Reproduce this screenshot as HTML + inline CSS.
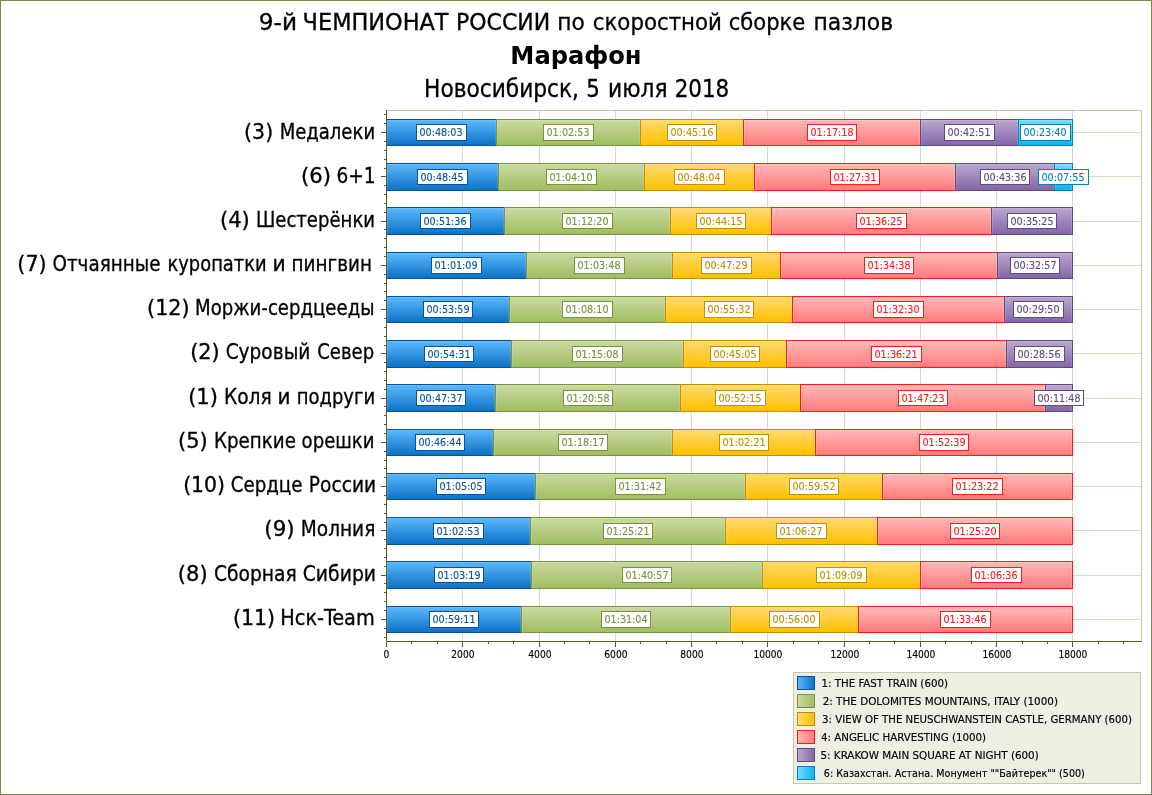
<!DOCTYPE html>
<html lang="ru"><head><meta charset="utf-8"><title>Марафон</title>
<style>html,body{margin:0;padding:0;background:#fff}body{width:1152px;height:795px;overflow:hidden}svg{display:block}text{font-family:'DejaVu Sans Condensed','DejaVu Sans','Liberation Sans',sans-serif}.d text{stroke-width:.12px}</style></head><body>
<svg width="1152" height="795" viewBox="0 0 1152 795">
<defs>
<linearGradient id="v0" x1="0" y1="0" x2="0" y2="1"><stop offset="0" stop-color="#5cb8fc"/><stop offset="1" stop-color="#0c73c7"/></linearGradient>
<linearGradient id="h0" x1="0" y1="0" x2="1" y2="0"><stop offset="0" stop-color="#5cb8fc"/><stop offset="1" stop-color="#0c73c7"/></linearGradient>
<linearGradient id="v1" x1="0" y1="0" x2="0" y2="1"><stop offset="0" stop-color="#c9daa2"/><stop offset="1" stop-color="#a1bd60"/></linearGradient>
<linearGradient id="h1" x1="0" y1="0" x2="1" y2="0"><stop offset="0" stop-color="#c9daa2"/><stop offset="1" stop-color="#a1bd60"/></linearGradient>
<linearGradient id="v2" x1="0" y1="0" x2="0" y2="1"><stop offset="0" stop-color="#ffd970"/><stop offset="1" stop-color="#ffc000"/></linearGradient>
<linearGradient id="h2" x1="0" y1="0" x2="1" y2="0"><stop offset="0" stop-color="#ffd970"/><stop offset="1" stop-color="#ffc000"/></linearGradient>
<linearGradient id="v3" x1="0" y1="0" x2="0" y2="1"><stop offset="0" stop-color="#ffb9b9"/><stop offset="1" stop-color="#ff7b7b"/></linearGradient>
<linearGradient id="h3" x1="0" y1="0" x2="1" y2="0"><stop offset="0" stop-color="#ffb9b9"/><stop offset="1" stop-color="#ff7b7b"/></linearGradient>
<linearGradient id="v4" x1="0" y1="0" x2="0" y2="1"><stop offset="0" stop-color="#baa7cf"/><stop offset="1" stop-color="#8467a8"/></linearGradient>
<linearGradient id="h4" x1="0" y1="0" x2="1" y2="0"><stop offset="0" stop-color="#baa7cf"/><stop offset="1" stop-color="#8467a8"/></linearGradient>
<linearGradient id="v5" x1="0" y1="0" x2="0" y2="1"><stop offset="0" stop-color="#72ddff"/><stop offset="1" stop-color="#0db4f0"/></linearGradient>
<linearGradient id="h5" x1="0" y1="0" x2="1" y2="0"><stop offset="0" stop-color="#72ddff"/><stop offset="1" stop-color="#0db4f0"/></linearGradient>
</defs>
<rect x="0" y="0" width="1152" height="795" fill="#fff"/>
<rect x="0.5" y="0.5" width="1151" height="794" fill="none" stroke="#768a4d" shape-rendering="crispEdges"/>
<g shape-rendering="crispEdges">
<rect x="462" y="111" width="1" height="530" fill="#d9dcc4"/>
<rect x="539" y="111" width="1" height="530" fill="#d9dcc4"/>
<rect x="615" y="111" width="1" height="530" fill="#d9dcc4"/>
<rect x="691" y="111" width="1" height="530" fill="#d9dcc4"/>
<rect x="767" y="111" width="1" height="530" fill="#d9dcc4"/>
<rect x="844" y="111" width="1" height="530" fill="#d9dcc4"/>
<rect x="920" y="111" width="1" height="530" fill="#d9dcc4"/>
<rect x="996" y="111" width="1" height="530" fill="#d9dcc4"/>
<rect x="1072" y="111" width="1" height="530" fill="#d9dcc4"/>
<rect x="387" y="132" width="754" height="1" fill="#d9dcc4"/>
<rect x="387" y="176" width="754" height="1" fill="#d9dcc4"/>
<rect x="387" y="221" width="754" height="1" fill="#d9dcc4"/>
<rect x="387" y="265" width="754" height="1" fill="#d9dcc4"/>
<rect x="387" y="309" width="754" height="1" fill="#d9dcc4"/>
<rect x="387" y="353" width="754" height="1" fill="#d9dcc4"/>
<rect x="387" y="398" width="754" height="1" fill="#d9dcc4"/>
<rect x="387" y="442" width="754" height="1" fill="#d9dcc4"/>
<rect x="387" y="486" width="754" height="1" fill="#d9dcc4"/>
<rect x="387" y="530" width="754" height="1" fill="#d9dcc4"/>
<rect x="387" y="575" width="754" height="1" fill="#d9dcc4"/>
<rect x="387" y="619" width="754" height="1" fill="#d9dcc4"/>
<rect x="387" y="110" width="755" height="1" fill="#c3c7a2"/>
<rect x="1141" y="110" width="1" height="532" fill="#c3c7a2"/>
<rect x="386" y="119" width="111" height="27" fill="#03549a"/>
<rect x="387" y="120" width="109" height="25" fill="url(#v0)"/>
<path d="M387.5 145V120.5H495.5V145" fill="none" stroke="rgba(255,255,255,0.10)"/>
<rect x="496" y="119" width="145" height="27" fill="#77933c"/>
<rect x="497" y="120" width="143" height="25" fill="url(#v1)"/>
<path d="M497.5 145V120.5H639.5V145" fill="none" stroke="rgba(255,255,255,0.14)"/>
<rect x="640" y="119" width="104" height="27" fill="#bf9000"/>
<rect x="641" y="120" width="102" height="25" fill="url(#v2)"/>
<path d="M641.5 145V120.5H742.5V145" fill="none" stroke="rgba(255,255,180,0.13)"/>
<rect x="743" y="119" width="178" height="27" fill="#ff1a1a"/>
<rect x="744" y="120" width="176" height="25" fill="url(#v3)"/>
<path d="M744.5 145V120.5H919.5V145" fill="none" stroke="rgba(255,255,255,0.16)"/>
<rect x="920" y="119" width="99" height="27" fill="#604a7b"/>
<rect x="921" y="120" width="97" height="25" fill="url(#v4)"/>
<path d="M921.5 145V120.5H1017.5V145" fill="none" stroke="rgba(255,255,255,0.13)"/>
<rect x="1018" y="119" width="55" height="27" fill="#0084b4"/>
<rect x="1019" y="120" width="53" height="25" fill="url(#v5)"/>
<path d="M1019.5 145V120.5H1071.5V145" fill="none" stroke="rgba(255,255,255,0.16)"/>
<rect x="386" y="163" width="113" height="28" fill="#03549a"/>
<rect x="387" y="164" width="111" height="26" fill="url(#v0)"/>
<path d="M387.5 190V164.5H497.5V190" fill="none" stroke="rgba(255,255,255,0.10)"/>
<rect x="498" y="163" width="147" height="28" fill="#77933c"/>
<rect x="499" y="164" width="145" height="26" fill="url(#v1)"/>
<path d="M499.5 190V164.5H643.5V190" fill="none" stroke="rgba(255,255,255,0.14)"/>
<rect x="644" y="163" width="111" height="28" fill="#bf9000"/>
<rect x="645" y="164" width="109" height="26" fill="url(#v2)"/>
<path d="M645.5 190V164.5H753.5V190" fill="none" stroke="rgba(255,255,180,0.13)"/>
<rect x="754" y="163" width="202" height="28" fill="#ff1a1a"/>
<rect x="755" y="164" width="200" height="26" fill="url(#v3)"/>
<path d="M755.5 190V164.5H954.5V190" fill="none" stroke="rgba(255,255,255,0.16)"/>
<rect x="955" y="163" width="100" height="28" fill="#604a7b"/>
<rect x="956" y="164" width="98" height="26" fill="url(#v4)"/>
<path d="M956.5 190V164.5H1053.5V190" fill="none" stroke="rgba(255,255,255,0.13)"/>
<rect x="1054" y="163" width="19" height="28" fill="#0084b4"/>
<rect x="1055" y="164" width="17" height="26" fill="url(#v5)"/>
<path d="M1055.5 190V164.5H1071.5V190" fill="none" stroke="rgba(255,255,255,0.16)"/>
<rect x="386" y="207" width="119" height="28" fill="#03549a"/>
<rect x="387" y="208" width="117" height="26" fill="url(#v0)"/>
<path d="M387.5 234V208.5H503.5V234" fill="none" stroke="rgba(255,255,255,0.10)"/>
<rect x="504" y="207" width="167" height="28" fill="#77933c"/>
<rect x="505" y="208" width="165" height="26" fill="url(#v1)"/>
<path d="M505.5 234V208.5H669.5V234" fill="none" stroke="rgba(255,255,255,0.14)"/>
<rect x="670" y="207" width="102" height="28" fill="#bf9000"/>
<rect x="671" y="208" width="100" height="26" fill="url(#v2)"/>
<path d="M671.5 234V208.5H770.5V234" fill="none" stroke="rgba(255,255,180,0.13)"/>
<rect x="771" y="207" width="221" height="28" fill="#ff1a1a"/>
<rect x="772" y="208" width="219" height="26" fill="url(#v3)"/>
<path d="M772.5 234V208.5H990.5V234" fill="none" stroke="rgba(255,255,255,0.16)"/>
<rect x="991" y="207" width="82" height="28" fill="#604a7b"/>
<rect x="992" y="208" width="80" height="26" fill="url(#v4)"/>
<path d="M992.5 234V208.5H1071.5V234" fill="none" stroke="rgba(255,255,255,0.13)"/>
<rect x="386" y="252" width="141" height="27" fill="#03549a"/>
<rect x="387" y="253" width="139" height="25" fill="url(#v0)"/>
<path d="M387.5 278V253.5H525.5V278" fill="none" stroke="rgba(255,255,255,0.10)"/>
<rect x="526" y="252" width="147" height="27" fill="#77933c"/>
<rect x="527" y="253" width="145" height="25" fill="url(#v1)"/>
<path d="M527.5 278V253.5H671.5V278" fill="none" stroke="rgba(255,255,255,0.14)"/>
<rect x="672" y="252" width="109" height="27" fill="#bf9000"/>
<rect x="673" y="253" width="107" height="25" fill="url(#v2)"/>
<path d="M673.5 278V253.5H779.5V278" fill="none" stroke="rgba(255,255,180,0.13)"/>
<rect x="780" y="252" width="218" height="27" fill="#ff1a1a"/>
<rect x="781" y="253" width="216" height="25" fill="url(#v3)"/>
<path d="M781.5 278V253.5H996.5V278" fill="none" stroke="rgba(255,255,255,0.16)"/>
<rect x="997" y="252" width="76" height="27" fill="#604a7b"/>
<rect x="998" y="253" width="74" height="25" fill="url(#v4)"/>
<path d="M998.5 278V253.5H1071.5V278" fill="none" stroke="rgba(255,255,255,0.13)"/>
<rect x="386" y="296" width="124" height="27" fill="#03549a"/>
<rect x="387" y="297" width="122" height="25" fill="url(#v0)"/>
<path d="M387.5 322V297.5H508.5V322" fill="none" stroke="rgba(255,255,255,0.10)"/>
<rect x="509" y="296" width="157" height="27" fill="#77933c"/>
<rect x="510" y="297" width="155" height="25" fill="url(#v1)"/>
<path d="M510.5 322V297.5H664.5V322" fill="none" stroke="rgba(255,255,255,0.14)"/>
<rect x="665" y="296" width="128" height="27" fill="#bf9000"/>
<rect x="666" y="297" width="126" height="25" fill="url(#v2)"/>
<path d="M666.5 322V297.5H791.5V322" fill="none" stroke="rgba(255,255,180,0.13)"/>
<rect x="792" y="296" width="213" height="27" fill="#ff1a1a"/>
<rect x="793" y="297" width="211" height="25" fill="url(#v3)"/>
<path d="M793.5 322V297.5H1003.5V322" fill="none" stroke="rgba(255,255,255,0.16)"/>
<rect x="1004" y="296" width="69" height="27" fill="#604a7b"/>
<rect x="1005" y="297" width="67" height="25" fill="url(#v4)"/>
<path d="M1005.5 322V297.5H1071.5V322" fill="none" stroke="rgba(255,255,255,0.13)"/>
<rect x="386" y="340" width="126" height="28" fill="#03549a"/>
<rect x="387" y="341" width="124" height="26" fill="url(#v0)"/>
<path d="M387.5 367V341.5H510.5V367" fill="none" stroke="rgba(255,255,255,0.10)"/>
<rect x="511" y="340" width="173" height="28" fill="#77933c"/>
<rect x="512" y="341" width="171" height="26" fill="url(#v1)"/>
<path d="M512.5 367V341.5H682.5V367" fill="none" stroke="rgba(255,255,255,0.14)"/>
<rect x="683" y="340" width="104" height="28" fill="#bf9000"/>
<rect x="684" y="341" width="102" height="26" fill="url(#v2)"/>
<path d="M684.5 367V341.5H785.5V367" fill="none" stroke="rgba(255,255,180,0.13)"/>
<rect x="786" y="340" width="221" height="28" fill="#ff1a1a"/>
<rect x="787" y="341" width="219" height="26" fill="url(#v3)"/>
<path d="M787.5 367V341.5H1005.5V367" fill="none" stroke="rgba(255,255,255,0.16)"/>
<rect x="1006" y="340" width="67" height="28" fill="#604a7b"/>
<rect x="1007" y="341" width="65" height="26" fill="url(#v4)"/>
<path d="M1007.5 367V341.5H1071.5V367" fill="none" stroke="rgba(255,255,255,0.13)"/>
<rect x="386" y="384" width="110" height="28" fill="#03549a"/>
<rect x="387" y="385" width="108" height="26" fill="url(#v0)"/>
<path d="M387.5 411V385.5H494.5V411" fill="none" stroke="rgba(255,255,255,0.10)"/>
<rect x="495" y="384" width="186" height="28" fill="#77933c"/>
<rect x="496" y="385" width="184" height="26" fill="url(#v1)"/>
<path d="M496.5 411V385.5H679.5V411" fill="none" stroke="rgba(255,255,255,0.14)"/>
<rect x="680" y="384" width="121" height="28" fill="#bf9000"/>
<rect x="681" y="385" width="119" height="26" fill="url(#v2)"/>
<path d="M681.5 411V385.5H799.5V411" fill="none" stroke="rgba(255,255,180,0.13)"/>
<rect x="800" y="384" width="246" height="28" fill="#ff1a1a"/>
<rect x="801" y="385" width="244" height="26" fill="url(#v3)"/>
<path d="M801.5 411V385.5H1044.5V411" fill="none" stroke="rgba(255,255,255,0.16)"/>
<rect x="1045" y="384" width="28" height="28" fill="#604a7b"/>
<rect x="1046" y="385" width="26" height="26" fill="url(#v4)"/>
<path d="M1046.5 411V385.5H1071.5V411" fill="none" stroke="rgba(255,255,255,0.13)"/>
<rect x="386" y="429" width="108" height="27" fill="#03549a"/>
<rect x="387" y="430" width="106" height="25" fill="url(#v0)"/>
<path d="M387.5 455V430.5H492.5V455" fill="none" stroke="rgba(255,255,255,0.10)"/>
<rect x="493" y="429" width="180" height="27" fill="#77933c"/>
<rect x="494" y="430" width="178" height="25" fill="url(#v1)"/>
<path d="M494.5 455V430.5H671.5V455" fill="none" stroke="rgba(255,255,255,0.14)"/>
<rect x="672" y="429" width="144" height="27" fill="#bf9000"/>
<rect x="673" y="430" width="142" height="25" fill="url(#v2)"/>
<path d="M673.5 455V430.5H814.5V455" fill="none" stroke="rgba(255,255,180,0.13)"/>
<rect x="815" y="429" width="258" height="27" fill="#ff1a1a"/>
<rect x="816" y="430" width="256" height="25" fill="url(#v3)"/>
<path d="M816.5 455V430.5H1071.5V455" fill="none" stroke="rgba(255,255,255,0.16)"/>
<rect x="386" y="473" width="150" height="27" fill="#03549a"/>
<rect x="387" y="474" width="148" height="25" fill="url(#v0)"/>
<path d="M387.5 499V474.5H534.5V499" fill="none" stroke="rgba(255,255,255,0.10)"/>
<rect x="535" y="473" width="211" height="27" fill="#77933c"/>
<rect x="536" y="474" width="209" height="25" fill="url(#v1)"/>
<path d="M536.5 499V474.5H744.5V499" fill="none" stroke="rgba(255,255,255,0.14)"/>
<rect x="745" y="473" width="138" height="27" fill="#bf9000"/>
<rect x="746" y="474" width="136" height="25" fill="url(#v2)"/>
<path d="M746.5 499V474.5H881.5V499" fill="none" stroke="rgba(255,255,180,0.13)"/>
<rect x="882" y="473" width="191" height="27" fill="#ff1a1a"/>
<rect x="883" y="474" width="189" height="25" fill="url(#v3)"/>
<path d="M883.5 499V474.5H1071.5V499" fill="none" stroke="rgba(255,255,255,0.16)"/>
<rect x="386" y="517" width="145" height="28" fill="#03549a"/>
<rect x="387" y="518" width="143" height="26" fill="url(#v0)"/>
<path d="M387.5 544V518.5H529.5V544" fill="none" stroke="rgba(255,255,255,0.10)"/>
<rect x="530" y="517" width="196" height="28" fill="#77933c"/>
<rect x="531" y="518" width="194" height="26" fill="url(#v1)"/>
<path d="M531.5 544V518.5H724.5V544" fill="none" stroke="rgba(255,255,255,0.14)"/>
<rect x="725" y="517" width="153" height="28" fill="#bf9000"/>
<rect x="726" y="518" width="151" height="26" fill="url(#v2)"/>
<path d="M726.5 544V518.5H876.5V544" fill="none" stroke="rgba(255,255,180,0.13)"/>
<rect x="877" y="517" width="196" height="28" fill="#ff1a1a"/>
<rect x="878" y="518" width="194" height="26" fill="url(#v3)"/>
<path d="M878.5 544V518.5H1071.5V544" fill="none" stroke="rgba(255,255,255,0.16)"/>
<rect x="386" y="561" width="146" height="28" fill="#03549a"/>
<rect x="387" y="562" width="144" height="26" fill="url(#v0)"/>
<path d="M387.5 588V562.5H530.5V588" fill="none" stroke="rgba(255,255,255,0.10)"/>
<rect x="531" y="561" width="232" height="28" fill="#77933c"/>
<rect x="532" y="562" width="230" height="26" fill="url(#v1)"/>
<path d="M532.5 588V562.5H761.5V588" fill="none" stroke="rgba(255,255,255,0.14)"/>
<rect x="762" y="561" width="159" height="28" fill="#bf9000"/>
<rect x="763" y="562" width="157" height="26" fill="url(#v2)"/>
<path d="M763.5 588V562.5H919.5V588" fill="none" stroke="rgba(255,255,180,0.13)"/>
<rect x="920" y="561" width="153" height="28" fill="#ff1a1a"/>
<rect x="921" y="562" width="151" height="26" fill="url(#v3)"/>
<path d="M921.5 588V562.5H1071.5V588" fill="none" stroke="rgba(255,255,255,0.16)"/>
<rect x="386" y="606" width="136" height="27" fill="#03549a"/>
<rect x="387" y="607" width="134" height="25" fill="url(#v0)"/>
<path d="M387.5 632V607.5H520.5V632" fill="none" stroke="rgba(255,255,255,0.10)"/>
<rect x="521" y="606" width="210" height="27" fill="#77933c"/>
<rect x="522" y="607" width="208" height="25" fill="url(#v1)"/>
<path d="M522.5 632V607.5H729.5V632" fill="none" stroke="rgba(255,255,255,0.14)"/>
<rect x="730" y="606" width="129" height="27" fill="#bf9000"/>
<rect x="731" y="607" width="127" height="25" fill="url(#v2)"/>
<path d="M731.5 632V607.5H857.5V632" fill="none" stroke="rgba(255,255,180,0.13)"/>
<rect x="858" y="606" width="215" height="27" fill="#ff1a1a"/>
<rect x="859" y="607" width="213" height="25" fill="url(#v3)"/>
<path d="M859.5 632V607.5H1071.5V632" fill="none" stroke="rgba(255,255,255,0.16)"/>
<rect x="386" y="110" width="1" height="532" fill="#526029"/>
<rect x="386" y="641" width="756" height="1" fill="#526029"/>
<rect x="381" y="132" width="5" height="1" fill="#526029"/>
<rect x="381" y="176" width="5" height="1" fill="#526029"/>
<rect x="381" y="221" width="5" height="1" fill="#526029"/>
<rect x="381" y="265" width="5" height="1" fill="#526029"/>
<rect x="381" y="309" width="5" height="1" fill="#526029"/>
<rect x="381" y="353" width="5" height="1" fill="#526029"/>
<rect x="381" y="398" width="5" height="1" fill="#526029"/>
<rect x="381" y="442" width="5" height="1" fill="#526029"/>
<rect x="381" y="486" width="5" height="1" fill="#526029"/>
<rect x="381" y="530" width="5" height="1" fill="#526029"/>
<rect x="381" y="575" width="5" height="1" fill="#526029"/>
<rect x="381" y="619" width="5" height="1" fill="#526029"/>
<rect x="384" y="114" width="2" height="1" fill="#526029"/>
<rect x="384" y="123" width="2" height="1" fill="#526029"/>
<rect x="384" y="141" width="2" height="1" fill="#526029"/>
<rect x="384" y="150" width="2" height="1" fill="#526029"/>
<rect x="384" y="159" width="2" height="1" fill="#526029"/>
<rect x="384" y="168" width="2" height="1" fill="#526029"/>
<rect x="384" y="185" width="2" height="1" fill="#526029"/>
<rect x="384" y="194" width="2" height="1" fill="#526029"/>
<rect x="384" y="203" width="2" height="1" fill="#526029"/>
<rect x="384" y="212" width="2" height="1" fill="#526029"/>
<rect x="384" y="229" width="2" height="1" fill="#526029"/>
<rect x="384" y="238" width="2" height="1" fill="#526029"/>
<rect x="384" y="247" width="2" height="1" fill="#526029"/>
<rect x="384" y="256" width="2" height="1" fill="#526029"/>
<rect x="384" y="274" width="2" height="1" fill="#526029"/>
<rect x="384" y="283" width="2" height="1" fill="#526029"/>
<rect x="384" y="291" width="2" height="1" fill="#526029"/>
<rect x="384" y="300" width="2" height="1" fill="#526029"/>
<rect x="384" y="318" width="2" height="1" fill="#526029"/>
<rect x="384" y="327" width="2" height="1" fill="#526029"/>
<rect x="384" y="336" width="2" height="1" fill="#526029"/>
<rect x="384" y="345" width="2" height="1" fill="#526029"/>
<rect x="384" y="362" width="2" height="1" fill="#526029"/>
<rect x="384" y="371" width="2" height="1" fill="#526029"/>
<rect x="384" y="380" width="2" height="1" fill="#526029"/>
<rect x="384" y="389" width="2" height="1" fill="#526029"/>
<rect x="384" y="406" width="2" height="1" fill="#526029"/>
<rect x="384" y="415" width="2" height="1" fill="#526029"/>
<rect x="384" y="424" width="2" height="1" fill="#526029"/>
<rect x="384" y="433" width="2" height="1" fill="#526029"/>
<rect x="384" y="451" width="2" height="1" fill="#526029"/>
<rect x="384" y="460" width="2" height="1" fill="#526029"/>
<rect x="384" y="468" width="2" height="1" fill="#526029"/>
<rect x="384" y="477" width="2" height="1" fill="#526029"/>
<rect x="384" y="495" width="2" height="1" fill="#526029"/>
<rect x="384" y="504" width="2" height="1" fill="#526029"/>
<rect x="384" y="513" width="2" height="1" fill="#526029"/>
<rect x="384" y="522" width="2" height="1" fill="#526029"/>
<rect x="384" y="539" width="2" height="1" fill="#526029"/>
<rect x="384" y="548" width="2" height="1" fill="#526029"/>
<rect x="384" y="557" width="2" height="1" fill="#526029"/>
<rect x="384" y="566" width="2" height="1" fill="#526029"/>
<rect x="384" y="583" width="2" height="1" fill="#526029"/>
<rect x="384" y="592" width="2" height="1" fill="#526029"/>
<rect x="384" y="601" width="2" height="1" fill="#526029"/>
<rect x="384" y="610" width="2" height="1" fill="#526029"/>
<rect x="384" y="628" width="2" height="1" fill="#526029"/>
<rect x="384" y="637" width="2" height="1" fill="#526029"/>
<rect x="386" y="642" width="1" height="5" fill="#526029"/>
<rect x="462" y="642" width="1" height="5" fill="#526029"/>
<rect x="539" y="642" width="1" height="5" fill="#526029"/>
<rect x="615" y="642" width="1" height="5" fill="#526029"/>
<rect x="691" y="642" width="1" height="5" fill="#526029"/>
<rect x="767" y="642" width="1" height="5" fill="#526029"/>
<rect x="844" y="642" width="1" height="5" fill="#526029"/>
<rect x="920" y="642" width="1" height="5" fill="#526029"/>
<rect x="996" y="642" width="1" height="5" fill="#526029"/>
<rect x="1072" y="642" width="1" height="5" fill="#526029"/>
<rect x="411" y="642" width="1" height="2" fill="#526029"/>
<rect x="437" y="642" width="1" height="2" fill="#526029"/>
<rect x="488" y="642" width="1" height="2" fill="#526029"/>
<rect x="513" y="642" width="1" height="2" fill="#526029"/>
<rect x="564" y="642" width="1" height="2" fill="#526029"/>
<rect x="589" y="642" width="1" height="2" fill="#526029"/>
<rect x="640" y="642" width="1" height="2" fill="#526029"/>
<rect x="666" y="642" width="1" height="2" fill="#526029"/>
<rect x="716" y="642" width="1" height="2" fill="#526029"/>
<rect x="742" y="642" width="1" height="2" fill="#526029"/>
<rect x="793" y="642" width="1" height="2" fill="#526029"/>
<rect x="818" y="642" width="1" height="2" fill="#526029"/>
<rect x="869" y="642" width="1" height="2" fill="#526029"/>
<rect x="894" y="642" width="1" height="2" fill="#526029"/>
<rect x="945" y="642" width="1" height="2" fill="#526029"/>
<rect x="971" y="642" width="1" height="2" fill="#526029"/>
<rect x="1022" y="642" width="1" height="2" fill="#526029"/>
<rect x="1047" y="642" width="1" height="2" fill="#526029"/>
<rect x="1098" y="642" width="1" height="2" fill="#526029"/>
<rect x="1123" y="642" width="1" height="2" fill="#526029"/>
</g>
<g font-size="11" class="d">
<rect x="416.5" y="124.5" width="50" height="16" fill="#fff" stroke="#03549a" shape-rendering="crispEdges"/>
<text x="419.50" y="136" textLength="43.00" lengthAdjust="spacingAndGlyphs" fill="#03549a" stroke="#03549a">00:48:03</text>
<rect x="543.5" y="124.5" width="50" height="16" fill="#fff" stroke="#77933c" shape-rendering="crispEdges"/>
<text x="546.50" y="136" textLength="43.00" lengthAdjust="spacingAndGlyphs" fill="#77933c" stroke="#77933c">01:02:53</text>
<rect x="667.5" y="124.5" width="49" height="16" fill="#fff" stroke="#bf9000" shape-rendering="crispEdges"/>
<text x="670.50" y="136" textLength="43.00" lengthAdjust="spacingAndGlyphs" fill="#bf9000" stroke="#bf9000">00:45:16</text>
<rect x="807.5" y="124.5" width="49" height="16" fill="#fff" stroke="#ff1a1a" shape-rendering="crispEdges"/>
<text x="810.50" y="136" textLength="43.00" lengthAdjust="spacingAndGlyphs" fill="#ff1a1a" stroke="#ff1a1a">01:17:18</text>
<rect x="944.5" y="124.5" width="50" height="16" fill="#fff" stroke="#604a7b" shape-rendering="crispEdges"/>
<text x="947.50" y="136" textLength="43.00" lengthAdjust="spacingAndGlyphs" fill="#604a7b" stroke="#604a7b">00:42:51</text>
<rect x="1020.5" y="124.5" width="50" height="16" fill="#fff" stroke="#0084b4" shape-rendering="crispEdges"/>
<text x="1023.50" y="136" textLength="43.00" lengthAdjust="spacingAndGlyphs" fill="#0084b4" stroke="#0084b4">00:23:40</text>
<rect x="417.5" y="169.5" width="50" height="15" fill="#fff" stroke="#03549a" shape-rendering="crispEdges"/>
<text x="420.50" y="181" textLength="43.00" lengthAdjust="spacingAndGlyphs" fill="#03549a" stroke="#03549a">00:48:45</text>
<rect x="546.5" y="169.5" width="50" height="15" fill="#fff" stroke="#77933c" shape-rendering="crispEdges"/>
<text x="549.50" y="181" textLength="43.00" lengthAdjust="spacingAndGlyphs" fill="#77933c" stroke="#77933c">01:04:10</text>
<rect x="674.5" y="169.5" width="50" height="15" fill="#fff" stroke="#bf9000" shape-rendering="crispEdges"/>
<text x="677.50" y="181" textLength="43.00" lengthAdjust="spacingAndGlyphs" fill="#bf9000" stroke="#bf9000">00:48:04</text>
<rect x="830.5" y="169.5" width="49" height="15" fill="#fff" stroke="#ff1a1a" shape-rendering="crispEdges"/>
<text x="833.50" y="181" textLength="43.00" lengthAdjust="spacingAndGlyphs" fill="#ff1a1a" stroke="#ff1a1a">01:27:31</text>
<rect x="980.5" y="169.5" width="49" height="15" fill="#fff" stroke="#604a7b" shape-rendering="crispEdges"/>
<text x="983.50" y="181" textLength="43.00" lengthAdjust="spacingAndGlyphs" fill="#604a7b" stroke="#604a7b">00:43:36</text>
<rect x="1038.5" y="169.5" width="50" height="15" fill="#fff" stroke="#0084b4" shape-rendering="crispEdges"/>
<text x="1041.50" y="181" textLength="43.00" lengthAdjust="spacingAndGlyphs" fill="#0084b4" stroke="#0084b4">00:07:55</text>
<rect x="420.5" y="213.5" width="50" height="15" fill="#fff" stroke="#03549a" shape-rendering="crispEdges"/>
<text x="423.50" y="225" textLength="43.00" lengthAdjust="spacingAndGlyphs" fill="#03549a" stroke="#03549a">00:51:36</text>
<rect x="562.5" y="213.5" width="50" height="15" fill="#fff" stroke="#77933c" shape-rendering="crispEdges"/>
<text x="565.50" y="225" textLength="43.00" lengthAdjust="spacingAndGlyphs" fill="#77933c" stroke="#77933c">01:12:20</text>
<rect x="696.5" y="213.5" width="49" height="15" fill="#fff" stroke="#bf9000" shape-rendering="crispEdges"/>
<text x="699.50" y="225" textLength="43.00" lengthAdjust="spacingAndGlyphs" fill="#bf9000" stroke="#bf9000">00:44:15</text>
<rect x="856.5" y="213.5" width="50" height="15" fill="#fff" stroke="#ff1a1a" shape-rendering="crispEdges"/>
<text x="859.50" y="225" textLength="43.00" lengthAdjust="spacingAndGlyphs" fill="#ff1a1a" stroke="#ff1a1a">01:36:25</text>
<rect x="1007.5" y="213.5" width="49" height="15" fill="#fff" stroke="#604a7b" shape-rendering="crispEdges"/>
<text x="1010.50" y="225" textLength="43.00" lengthAdjust="spacingAndGlyphs" fill="#604a7b" stroke="#604a7b">00:35:25</text>
<rect x="431.5" y="257.5" width="50" height="16" fill="#fff" stroke="#03549a" shape-rendering="crispEdges"/>
<text x="434.50" y="269" textLength="43.00" lengthAdjust="spacingAndGlyphs" fill="#03549a" stroke="#03549a">01:01:09</text>
<rect x="574.5" y="257.5" width="50" height="16" fill="#fff" stroke="#77933c" shape-rendering="crispEdges"/>
<text x="577.50" y="269" textLength="43.00" lengthAdjust="spacingAndGlyphs" fill="#77933c" stroke="#77933c">01:03:48</text>
<rect x="701.5" y="257.5" width="50" height="16" fill="#fff" stroke="#bf9000" shape-rendering="crispEdges"/>
<text x="704.50" y="269" textLength="43.00" lengthAdjust="spacingAndGlyphs" fill="#bf9000" stroke="#bf9000">00:47:29</text>
<rect x="864.5" y="257.5" width="49" height="16" fill="#fff" stroke="#ff1a1a" shape-rendering="crispEdges"/>
<text x="867.50" y="269" textLength="43.00" lengthAdjust="spacingAndGlyphs" fill="#ff1a1a" stroke="#ff1a1a">01:34:38</text>
<rect x="1010.5" y="257.5" width="49" height="16" fill="#fff" stroke="#604a7b" shape-rendering="crispEdges"/>
<text x="1013.50" y="269" textLength="43.00" lengthAdjust="spacingAndGlyphs" fill="#604a7b" stroke="#604a7b">00:32:57</text>
<rect x="423.5" y="301.5" width="49" height="16" fill="#fff" stroke="#03549a" shape-rendering="crispEdges"/>
<text x="426.50" y="313" textLength="43.00" lengthAdjust="spacingAndGlyphs" fill="#03549a" stroke="#03549a">00:53:59</text>
<rect x="562.5" y="301.5" width="50" height="16" fill="#fff" stroke="#77933c" shape-rendering="crispEdges"/>
<text x="565.50" y="313" textLength="43.00" lengthAdjust="spacingAndGlyphs" fill="#77933c" stroke="#77933c">01:08:10</text>
<rect x="704.5" y="301.5" width="49" height="16" fill="#fff" stroke="#bf9000" shape-rendering="crispEdges"/>
<text x="707.50" y="313" textLength="43.00" lengthAdjust="spacingAndGlyphs" fill="#bf9000" stroke="#bf9000">00:55:32</text>
<rect x="873.5" y="301.5" width="50" height="16" fill="#fff" stroke="#ff1a1a" shape-rendering="crispEdges"/>
<text x="876.50" y="313" textLength="43.00" lengthAdjust="spacingAndGlyphs" fill="#ff1a1a" stroke="#ff1a1a">01:32:30</text>
<rect x="1013.5" y="301.5" width="50" height="16" fill="#fff" stroke="#604a7b" shape-rendering="crispEdges"/>
<text x="1016.50" y="313" textLength="43.00" lengthAdjust="spacingAndGlyphs" fill="#604a7b" stroke="#604a7b">00:29:50</text>
<rect x="424.5" y="346.5" width="49" height="15" fill="#fff" stroke="#03549a" shape-rendering="crispEdges"/>
<text x="427.50" y="358" textLength="43.00" lengthAdjust="spacingAndGlyphs" fill="#03549a" stroke="#03549a">00:54:31</text>
<rect x="572.5" y="346.5" width="50" height="15" fill="#fff" stroke="#77933c" shape-rendering="crispEdges"/>
<text x="575.50" y="358" textLength="43.00" lengthAdjust="spacingAndGlyphs" fill="#77933c" stroke="#77933c">01:15:08</text>
<rect x="710.5" y="346.5" width="49" height="15" fill="#fff" stroke="#bf9000" shape-rendering="crispEdges"/>
<text x="713.50" y="358" textLength="43.00" lengthAdjust="spacingAndGlyphs" fill="#bf9000" stroke="#bf9000">00:45:05</text>
<rect x="871.5" y="346.5" width="50" height="15" fill="#fff" stroke="#ff1a1a" shape-rendering="crispEdges"/>
<text x="874.50" y="358" textLength="43.00" lengthAdjust="spacingAndGlyphs" fill="#ff1a1a" stroke="#ff1a1a">01:36:21</text>
<rect x="1014.5" y="346.5" width="50" height="15" fill="#fff" stroke="#604a7b" shape-rendering="crispEdges"/>
<text x="1017.50" y="358" textLength="43.00" lengthAdjust="spacingAndGlyphs" fill="#604a7b" stroke="#604a7b">00:28:56</text>
<rect x="416.5" y="390.5" width="49" height="15" fill="#fff" stroke="#03549a" shape-rendering="crispEdges"/>
<text x="419.50" y="402" textLength="43.00" lengthAdjust="spacingAndGlyphs" fill="#03549a" stroke="#03549a">00:47:37</text>
<rect x="563.5" y="390.5" width="49" height="15" fill="#fff" stroke="#77933c" shape-rendering="crispEdges"/>
<text x="566.50" y="402" textLength="43.00" lengthAdjust="spacingAndGlyphs" fill="#77933c" stroke="#77933c">01:20:58</text>
<rect x="715.5" y="390.5" width="50" height="15" fill="#fff" stroke="#bf9000" shape-rendering="crispEdges"/>
<text x="718.50" y="402" textLength="43.00" lengthAdjust="spacingAndGlyphs" fill="#bf9000" stroke="#bf9000">00:52:15</text>
<rect x="898.5" y="390.5" width="49" height="15" fill="#fff" stroke="#ff1a1a" shape-rendering="crispEdges"/>
<text x="901.50" y="402" textLength="43.00" lengthAdjust="spacingAndGlyphs" fill="#ff1a1a" stroke="#ff1a1a">01:47:23</text>
<rect x="1034.5" y="390.5" width="49" height="15" fill="#fff" stroke="#604a7b" shape-rendering="crispEdges"/>
<text x="1037.50" y="402" textLength="43.00" lengthAdjust="spacingAndGlyphs" fill="#604a7b" stroke="#604a7b">00:11:48</text>
<rect x="415.5" y="434.5" width="49" height="16" fill="#fff" stroke="#03549a" shape-rendering="crispEdges"/>
<text x="418.50" y="446" textLength="43.00" lengthAdjust="spacingAndGlyphs" fill="#03549a" stroke="#03549a">00:46:44</text>
<rect x="558.5" y="434.5" width="49" height="16" fill="#fff" stroke="#77933c" shape-rendering="crispEdges"/>
<text x="561.50" y="446" textLength="43.00" lengthAdjust="spacingAndGlyphs" fill="#77933c" stroke="#77933c">01:18:17</text>
<rect x="719.5" y="434.5" width="49" height="16" fill="#fff" stroke="#bf9000" shape-rendering="crispEdges"/>
<text x="722.50" y="446" textLength="43.00" lengthAdjust="spacingAndGlyphs" fill="#bf9000" stroke="#bf9000">01:02:21</text>
<rect x="919.5" y="434.5" width="49" height="16" fill="#fff" stroke="#ff1a1a" shape-rendering="crispEdges"/>
<text x="922.50" y="446" textLength="43.00" lengthAdjust="spacingAndGlyphs" fill="#ff1a1a" stroke="#ff1a1a">01:52:39</text>
<rect x="436.5" y="478.5" width="49" height="16" fill="#fff" stroke="#03549a" shape-rendering="crispEdges"/>
<text x="439.50" y="490" textLength="43.00" lengthAdjust="spacingAndGlyphs" fill="#03549a" stroke="#03549a">01:05:05</text>
<rect x="615.5" y="478.5" width="50" height="16" fill="#fff" stroke="#77933c" shape-rendering="crispEdges"/>
<text x="618.50" y="490" textLength="43.00" lengthAdjust="spacingAndGlyphs" fill="#77933c" stroke="#77933c">01:31:42</text>
<rect x="789.5" y="478.5" width="49" height="16" fill="#fff" stroke="#bf9000" shape-rendering="crispEdges"/>
<text x="792.50" y="490" textLength="43.00" lengthAdjust="spacingAndGlyphs" fill="#bf9000" stroke="#bf9000">00:59:52</text>
<rect x="952.5" y="478.5" width="50" height="16" fill="#fff" stroke="#ff1a1a" shape-rendering="crispEdges"/>
<text x="955.50" y="490" textLength="43.00" lengthAdjust="spacingAndGlyphs" fill="#ff1a1a" stroke="#ff1a1a">01:23:22</text>
<rect x="433.5" y="523.5" width="50" height="15" fill="#fff" stroke="#03549a" shape-rendering="crispEdges"/>
<text x="436.50" y="535" textLength="43.00" lengthAdjust="spacingAndGlyphs" fill="#03549a" stroke="#03549a">01:02:53</text>
<rect x="603.5" y="523.5" width="49" height="15" fill="#fff" stroke="#77933c" shape-rendering="crispEdges"/>
<text x="606.50" y="535" textLength="43.00" lengthAdjust="spacingAndGlyphs" fill="#77933c" stroke="#77933c">01:25:21</text>
<rect x="776.5" y="523.5" width="50" height="15" fill="#fff" stroke="#bf9000" shape-rendering="crispEdges"/>
<text x="779.50" y="535" textLength="43.00" lengthAdjust="spacingAndGlyphs" fill="#bf9000" stroke="#bf9000">01:06:27</text>
<rect x="950.5" y="523.5" width="49" height="15" fill="#fff" stroke="#ff1a1a" shape-rendering="crispEdges"/>
<text x="953.50" y="535" textLength="43.00" lengthAdjust="spacingAndGlyphs" fill="#ff1a1a" stroke="#ff1a1a">01:25:20</text>
<rect x="434.5" y="567.5" width="49" height="15" fill="#fff" stroke="#03549a" shape-rendering="crispEdges"/>
<text x="437.50" y="579" textLength="43.00" lengthAdjust="spacingAndGlyphs" fill="#03549a" stroke="#03549a">01:03:19</text>
<rect x="622.5" y="567.5" width="49" height="15" fill="#fff" stroke="#77933c" shape-rendering="crispEdges"/>
<text x="625.50" y="579" textLength="43.00" lengthAdjust="spacingAndGlyphs" fill="#77933c" stroke="#77933c">01:40:57</text>
<rect x="816.5" y="567.5" width="50" height="15" fill="#fff" stroke="#bf9000" shape-rendering="crispEdges"/>
<text x="819.50" y="579" textLength="43.00" lengthAdjust="spacingAndGlyphs" fill="#bf9000" stroke="#bf9000">01:09:09</text>
<rect x="971.5" y="567.5" width="50" height="15" fill="#fff" stroke="#ff1a1a" shape-rendering="crispEdges"/>
<text x="974.50" y="579" textLength="43.00" lengthAdjust="spacingAndGlyphs" fill="#ff1a1a" stroke="#ff1a1a">01:06:36</text>
<rect x="429.5" y="611.5" width="49" height="16" fill="#fff" stroke="#03549a" shape-rendering="crispEdges"/>
<text x="432.50" y="623" textLength="43.00" lengthAdjust="spacingAndGlyphs" fill="#03549a" stroke="#03549a">00:59:11</text>
<rect x="601.5" y="611.5" width="49" height="16" fill="#fff" stroke="#77933c" shape-rendering="crispEdges"/>
<text x="604.50" y="623" textLength="43.00" lengthAdjust="spacingAndGlyphs" fill="#77933c" stroke="#77933c">01:31:04</text>
<rect x="769.5" y="611.5" width="50" height="16" fill="#fff" stroke="#bf9000" shape-rendering="crispEdges"/>
<text x="772.50" y="623" textLength="43.00" lengthAdjust="spacingAndGlyphs" fill="#bf9000" stroke="#bf9000">00:56:00</text>
<rect x="940.5" y="611.5" width="50" height="16" fill="#fff" stroke="#ff1a1a" shape-rendering="crispEdges"/>
<text x="943.50" y="623" textLength="43.00" lengthAdjust="spacingAndGlyphs" fill="#ff1a1a" stroke="#ff1a1a">01:33:46</text>
</g>
<text stroke="#000" stroke-width="0.15" x="386.30" y="658.0" font-size="11" text-anchor="middle" textLength="5.80" lengthAdjust="spacingAndGlyphs">0</text>
<text stroke="#000" stroke-width="0.15" x="462.90" y="658.0" font-size="11" text-anchor="middle" textLength="23.20" lengthAdjust="spacingAndGlyphs">2000</text>
<text stroke="#000" stroke-width="0.15" x="539.90" y="658.0" font-size="11" text-anchor="middle" textLength="23.20" lengthAdjust="spacingAndGlyphs">4000</text>
<text stroke="#000" stroke-width="0.15" x="615.90" y="658.0" font-size="11" text-anchor="middle" textLength="23.20" lengthAdjust="spacingAndGlyphs">6000</text>
<text stroke="#000" stroke-width="0.15" x="691.90" y="658.0" font-size="11" text-anchor="middle" textLength="23.20" lengthAdjust="spacingAndGlyphs">8000</text>
<text stroke="#000" stroke-width="0.15" x="767.90" y="658.0" font-size="11" text-anchor="middle" textLength="29.00" lengthAdjust="spacingAndGlyphs">10000</text>
<text stroke="#000" stroke-width="0.15" x="844.90" y="658.0" font-size="11" text-anchor="middle" textLength="29.00" lengthAdjust="spacingAndGlyphs">12000</text>
<text stroke="#000" stroke-width="0.15" x="920.90" y="658.0" font-size="11" text-anchor="middle" textLength="29.00" lengthAdjust="spacingAndGlyphs">14000</text>
<text stroke="#000" stroke-width="0.15" x="996.90" y="658.0" font-size="11" text-anchor="middle" textLength="29.00" lengthAdjust="spacingAndGlyphs">16000</text>
<text stroke="#000" stroke-width="0.15" x="1072.90" y="658.0" font-size="11" text-anchor="middle" textLength="29.00" lengthAdjust="spacingAndGlyphs">18000</text>
<rect x="793.5" y="672.5" width="347" height="111" fill="#eeeee2" stroke="#c6caa8" shape-rendering="crispEdges"/>
<rect x="797.5" y="676.5" width="17" height="13" fill="url(#h0)" stroke="#03549a" shape-rendering="crispEdges"/>
<rect x="797.5" y="694.5" width="17" height="13" fill="url(#h1)" stroke="#77933c" shape-rendering="crispEdges"/>
<rect x="797.5" y="712.5" width="17" height="13" fill="url(#h2)" stroke="#bf9000" shape-rendering="crispEdges"/>
<rect x="797.5" y="730.5" width="17" height="13" fill="url(#h3)" stroke="#ff1a1a" shape-rendering="crispEdges"/>
<rect x="797.5" y="748.5" width="17" height="13" fill="url(#h4)" stroke="#604a7b" shape-rendering="crispEdges"/>
<rect x="797.5" y="766.5" width="17" height="13" fill="url(#h5)" stroke="#0084b4" shape-rendering="crispEdges"/>
<text y="30" font-size="22.67" stroke="#000" stroke-width="0.3"><tspan x="258.85" textLength="38.19" lengthAdjust="spacingAndGlyphs">9-й</tspan> <tspan x="302.63" textLength="145.90" lengthAdjust="spacingAndGlyphs">ЧЕМПИОНАТ</tspan> <tspan x="456.00" textLength="94.08" lengthAdjust="spacingAndGlyphs">РОССИИ</tspan> <tspan x="557.26" textLength="27.61" lengthAdjust="spacingAndGlyphs">по</tspan> <tspan x="592.76" textLength="129.18" lengthAdjust="spacingAndGlyphs">скоростной</tspan> <tspan x="728.71" textLength="76.58" lengthAdjust="spacingAndGlyphs">сборке</tspan> <tspan x="813.44" textLength="79.65" lengthAdjust="spacingAndGlyphs">пазлов</tspan></text>
<text y="64" font-size="25.33" font-weight="bold"><tspan x="510.39" textLength="131.19" lengthAdjust="spacingAndGlyphs">Марафон</tspan></text>
<text y="97" font-size="24" stroke="#000" stroke-width="0.3"><tspan x="424.08" textLength="154.94" lengthAdjust="spacingAndGlyphs">Новосибирск,</tspan> <tspan x="586.16" textLength="13.58" lengthAdjust="spacingAndGlyphs">5</tspan> <tspan x="608.02" textLength="59.54" lengthAdjust="spacingAndGlyphs">июля</tspan> <tspan x="674.68" textLength="54.60" lengthAdjust="spacingAndGlyphs">2018</tspan></text>
<text y="139" font-size="21.33" stroke="#000" stroke-width="0.3"><tspan x="244.09" textLength="29.06" lengthAdjust="spacingAndGlyphs">(3)</tspan> <tspan x="279.64" textLength="95.48" lengthAdjust="spacingAndGlyphs">Медалеки</tspan></text>
<text y="183" font-size="21.33" stroke="#000" stroke-width="0.3"><tspan x="300.97" textLength="29.92" lengthAdjust="spacingAndGlyphs">(6)</tspan> <tspan x="336.51" textLength="39.04" lengthAdjust="spacingAndGlyphs">6+1</tspan></text>
<text y="227" font-size="21.33" stroke="#000" stroke-width="0.3"><tspan x="220.05" textLength="29.79" lengthAdjust="spacingAndGlyphs">(4)</tspan> <tspan x="255.95" textLength="119.13" lengthAdjust="spacingAndGlyphs">Шестерёнки</tspan></text>
<text y="271" font-size="21.33" stroke="#000" stroke-width="0.3"><tspan x="17.38" textLength="29.28" lengthAdjust="spacingAndGlyphs">(7)</tspan> <tspan x="52.47" textLength="108.06" lengthAdjust="spacingAndGlyphs">Отчаянные</tspan> <tspan x="167.52" textLength="99.04" lengthAdjust="spacingAndGlyphs">куропатки</tspan> <tspan x="272.62" textLength="13.19" lengthAdjust="spacingAndGlyphs">и</tspan> <tspan x="291.60" textLength="80.37" lengthAdjust="spacingAndGlyphs">пингвин</tspan></text>
<text y="315" font-size="21.33" stroke="#000" stroke-width="0.3"><tspan x="147.12" textLength="42.43" lengthAdjust="spacingAndGlyphs">(12)</tspan> <tspan x="195.06" textLength="179.42" lengthAdjust="spacingAndGlyphs">Моржи-сердцееды</tspan></text>
<text y="359" font-size="21.33" stroke="#000" stroke-width="0.3"><tspan x="190.21" textLength="29.45" lengthAdjust="spacingAndGlyphs">(2)</tspan> <tspan x="225.63" textLength="84.74" lengthAdjust="spacingAndGlyphs">Суровый</tspan> <tspan x="317.19" textLength="56.91" lengthAdjust="spacingAndGlyphs">Север</tspan></text>
<text y="404" font-size="21.33" stroke="#000" stroke-width="0.3"><tspan x="188.21" textLength="29.67" lengthAdjust="spacingAndGlyphs">(1)</tspan> <tspan x="223.92" textLength="47.76" lengthAdjust="spacingAndGlyphs">Коля</tspan> <tspan x="277.62" textLength="12.99" lengthAdjust="spacingAndGlyphs">и</tspan> <tspan x="296.65" textLength="78.48" lengthAdjust="spacingAndGlyphs">подруги</tspan></text>
<text y="448" font-size="21.33" stroke="#000" stroke-width="0.3"><tspan x="177.96" textLength="29.77" lengthAdjust="spacingAndGlyphs">(5)</tspan> <tspan x="214.00" textLength="81.90" lengthAdjust="spacingAndGlyphs">Крепкие</tspan> <tspan x="301.62" textLength="72.92" lengthAdjust="spacingAndGlyphs">орешки</tspan></text>
<text y="492" font-size="21.33" stroke="#000" stroke-width="0.3"><tspan x="183.15" textLength="41.85" lengthAdjust="spacingAndGlyphs">(10)</tspan> <tspan x="230.68" textLength="71.82" lengthAdjust="spacingAndGlyphs">Сердце</tspan> <tspan x="308.87" textLength="67.18" lengthAdjust="spacingAndGlyphs">России</tspan></text>
<text y="536" font-size="21.33" stroke="#000" stroke-width="0.3"><tspan x="264.37" textLength="30.33" lengthAdjust="spacingAndGlyphs">(9)</tspan> <tspan x="300.83" textLength="74.48" lengthAdjust="spacingAndGlyphs">Молния</tspan></text>
<text y="581" font-size="21.33" stroke="#000" stroke-width="0.3"><tspan x="177.88" textLength="29.82" lengthAdjust="spacingAndGlyphs">(8)</tspan> <tspan x="213.91" textLength="82.85" lengthAdjust="spacingAndGlyphs">Сборная</tspan> <tspan x="302.73" textLength="73.34" lengthAdjust="spacingAndGlyphs">Сибири</tspan></text>
<text y="625" font-size="21.33" stroke="#000" stroke-width="0.3"><tspan x="233.06" textLength="42.07" lengthAdjust="spacingAndGlyphs">(11)</tspan> <tspan x="280.30" textLength="94.46" lengthAdjust="spacingAndGlyphs">Нск-Team</tspan></text>
<text y="687" font-size="11" stroke="#000" stroke-width="0.15"><tspan x="821.40" textLength="126.63" lengthAdjust="spacingAndGlyphs">1: THE FAST TRAIN (600)</tspan></text>
<text y="705" font-size="11" stroke="#000" stroke-width="0.15"><tspan x="822.70" textLength="235.29" lengthAdjust="spacingAndGlyphs">2: THE DOLOMITES MOUNTAINS, ITALY (1000)</tspan></text>
<text y="723" font-size="11" stroke="#000" stroke-width="0.15"><tspan x="822.13" textLength="309.86" lengthAdjust="spacingAndGlyphs">3: VIEW OF THE NEUSCHWANSTEIN CASTLE, GERMANY (600)</tspan></text>
<text y="741" font-size="11" stroke="#000" stroke-width="0.15"><tspan x="820.97" textLength="165.10" lengthAdjust="spacingAndGlyphs">4: ANGELIC HARVESTING (1000)</tspan></text>
<text y="759" font-size="11" stroke="#000" stroke-width="0.15"><tspan x="820.49" textLength="218.26" lengthAdjust="spacingAndGlyphs">5: KRAKOW MAIN SQUARE AT NIGHT (600)</tspan></text>
<text y="777" font-size="11" stroke="#000" stroke-width="0.15"><tspan x="823.84" textLength="261.04" lengthAdjust="spacingAndGlyphs">6: Казахстан. Астана. Монумент &quot;&quot;Байтерек&quot;&quot; (500)</tspan></text>
</svg></body></html>
